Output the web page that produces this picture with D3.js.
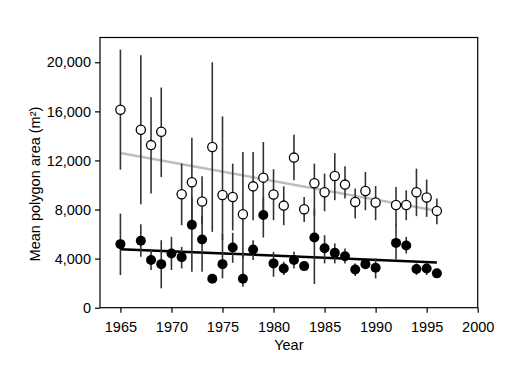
<!DOCTYPE html>
<html><head><meta charset="utf-8">
<script src="https://cdn.jsdelivr.net/npm/d3@7"></script>
<style>
body{margin:0;background:#fff;}
text{font-family:"Liberation Sans",Arial,Helvetica,sans-serif;}
</style></head>
<body><svg id="c" width="521" height="367"></svg>
<script>
// Open circles (upper series)
const openYears = [1965,1967,1968,1969,1971,1972,1973,1974,1975,1976,1977,1978,1979,1980,1981,1982,1983,1984,1985,1986,1987,1988,1989,1990,1992,1993,1994,1995,1996];
const openMean  = [16130,14500,13250,14340,9240,10220,8650,13090,9190,9020,7620,9890,10600,9220,8320,12230,8020,10140,9410,10730,10030,8620,9510,8570,8370,8370,9410,8980,7890];
const openHigh  = [21030,20570,17150,17940,11740,13850,10710,20000,15590,11740,12680,12680,13500,11280,9890,14100,9020,11740,10930,12600,11520,9710,11060,9920,9840,9570,11330,10440,8890];
const openLow   = [11250,8430,9300,10650,6720,7000,6800,6180,5500,6300,4000,7130,8000,7130,6720,10380,6990,7500,7860,8760,8890,7270,7940,7130,6700,7130,7460,7400,6800];
// Filled circles (lower series)
const filledYears = [1965,1967,1968,1969,1970,1971,1972,1973,1974,1975,1976,1977,1978,1979,1980,1981,1982,1983,1984,1985,1986,1987,1988,1989,1990,1992,1993,1994,1995,1996];
const filledMean  = [5180,5450,3880,3550,4420,4120,6750,5560,2360,3550,4910,2360,4750,7560,3610,3200,3880,3390,5720,4850,4470,4200,3120,3550,3250,5280,5070,3150,3200,2800];
const filledHigh  = [7670,6800,4750,5500,5770,4960,9000,7500,2600,6000,6100,4500,5500,9000,4550,3740,4550,3740,8000,5910,5240,4830,3610,3880,4010,6800,5770,3610,3660,3050];
const filledLow   = [2660,4150,3070,1580,3070,3200,2930,2930,2150,2390,3660,1710,3880,5720,2520,2660,3200,3010,1930,3610,3610,3610,2580,3200,2390,3930,4420,2660,2660,2550];
// Trend lines (endpoints)
const trendYears = [1965,1996];
const openTrend = [12600,7900];
const filledTrend = [4770,3690];
// Ticks
const xTicks = [1965,1970,1975,1980,1985,1990,1995,2000];
const yTicks = [0,4000,8000,12000,16000,20000];

const svg = d3.select("#c");
const L=100, R=477.7, T=37, B=307.7;
const x = d3.scaleLinear().domain([1963,2000]).range([L,R]);
const y = d3.scaleLinear().domain([0,22060]).range([B,T]);

// frame
svg.append("rect").attr("x",L).attr("y",T+0.5).attr("width",R-L).attr("height",B-T-0.5)
  .attr("fill","none").attr("stroke","#000").attr("stroke-width",1.2);

const fmt = d3.format(",");
const ya = svg.append("g").attr("transform",`translate(${L},0)`)
  .call(d3.axisLeft(y).tickValues(yTicks).tickFormat(fmt).tickSize(5).tickPadding(4));
const xa = svg.append("g").attr("transform",`translate(0,${B})`)
  .call(d3.axisBottom(x).tickValues(xTicks).tickFormat(d3.format("d")).tickSize(5).tickPadding(9));
[ya,xa].forEach(a=>{
  a.select(".domain").remove();
  a.selectAll("line").attr("stroke","#000").attr("stroke-width",1.2);
  a.selectAll("text").attr("font-size","14.5px").attr("fill","#000")
    .attr("font-family","'Liberation Sans',Arial,sans-serif");
});

svg.append("text").attr("x",(L+R)/2).attr("y",350).attr("text-anchor","middle")
  .attr("font-size","14.5px").text("Year");
svg.append("text").attr("transform","translate(40,184) rotate(-90)").attr("text-anchor","middle")
  .attr("font-size","14.5px").text("Mean polygon area (m²)");

const line = d3.line().x(d=>x(d[0])).y(d=>y(d[1]));
svg.append("path").datum(trendYears.map((t,i)=>[t,openTrend[i]])).attr("d",line)
  .attr("stroke","#bdbdbd").attr("stroke-width",2.5).attr("fill","none");
svg.append("path").datum(trendYears.map((t,i)=>[t,filledTrend[i]])).attr("d",line)
  .attr("stroke","#000").attr("stroke-width",2.5).attr("fill","none");

function bars(years,lo,hi){
  svg.append("g").selectAll("line").data(years).join("line")
    .attr("x1",d=>x(d)).attr("x2",d=>x(d))
    .attr("y1",(d,i)=>y(hi[i])).attr("y2",(d,i)=>y(lo[i]))
    .attr("stroke","#333").attr("stroke-width",1.6);
}
bars(openYears,openLow,openHigh);
bars(filledYears,filledLow,filledHigh);

svg.append("g").selectAll("circle").data(filledYears).join("circle")
  .attr("cx",d=>x(d)).attr("cy",(d,i)=>y(filledMean[i])).attr("r",5).attr("fill","#000");
svg.append("g").selectAll("circle").data(openYears).join("circle")
  .attr("cx",d=>x(d)).attr("cy",(d,i)=>y(openMean[i])).attr("r",4.6)
  .attr("fill","#fff").attr("stroke","#000").attr("stroke-width",1.3);
</script></body></html>
